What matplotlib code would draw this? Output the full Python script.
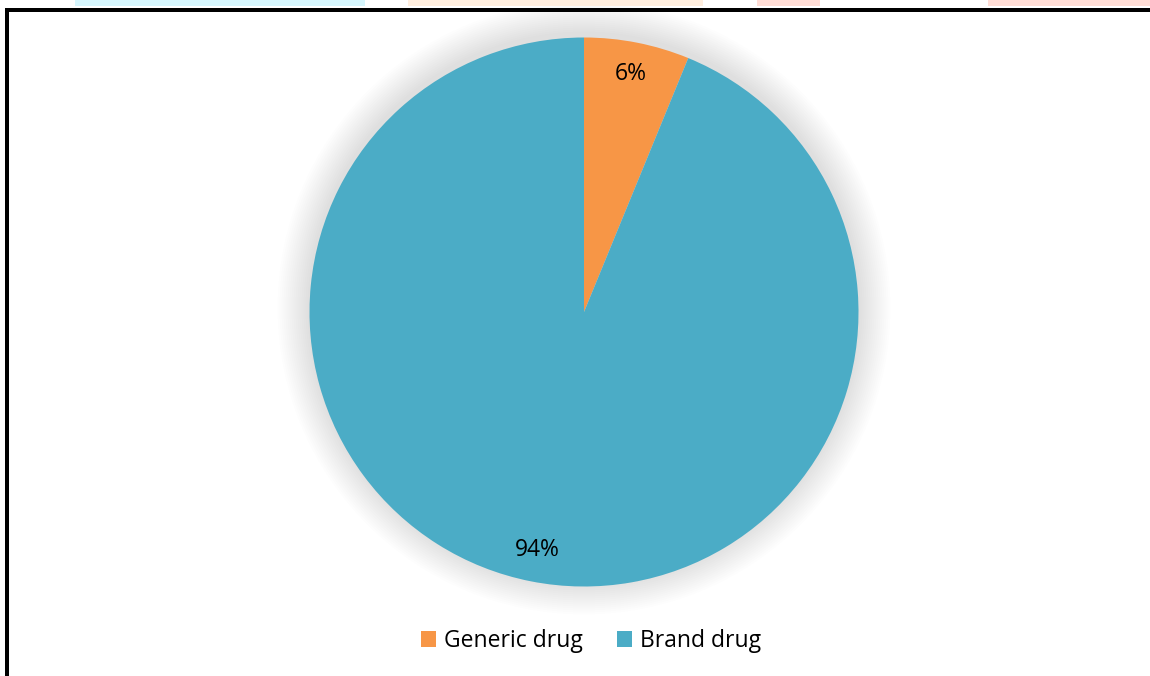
import matplotlib
matplotlib.use("Agg")
import matplotlib.pyplot as plt
from matplotlib.patches import Rectangle, Circle

categories = ["Generic drug", "Brand drug"]
shares = [6.2, 93.8]
colors = ["#F79646", "#4BACC6"]

W, H = 1150, 676
fig = plt.figure(figsize=(W / 100, H / 100), dpi=100)
fig.patch.set_facecolor("white")
plt.rcParams["font.family"] = ["Open Sans", "DejaVu Sans"]

ax = fig.add_axes([0, 0, 1, 1])
ax.set_xlim(0, W)
ax.set_ylim(0, H)
ax.set_aspect("equal")
ax.axis("off")

cx, cy, r = 584, H - 312, 274.5

# soft shadow around the pie
n = 16
for i in range(n):
    rr = r + 32 * (n - i) / n
    ax.add_patch(Circle((cx, cy + 4), rr, color="black", alpha=0.006, lw=0, zorder=0))

wedges, texts, autotexts = ax.pie(
    shares, colors=colors, startangle=90, counterclock=False,
    center=(cx, cy), radius=r, autopct="%.0f%%", pctdistance=0.885,
    textprops=dict(fontsize=16.5, color="black"),
    wedgeprops=dict(linewidth=0),
)
ax.set_xlim(0, W)
ax.set_ylim(0, H)

leg = ax.legend(wedges, categories, loc="center",
                bbox_to_anchor=(591 / W, (H - 641) / H),
                bbox_transform=fig.transFigure, ncol=2, frameon=False,
                fontsize=16.5, handlelength=0.65, handleheight=0.65,
                handletextpad=0.35, columnspacing=1.5)

# frame lines (page border, cropped)
fig.add_artist(Rectangle((5 / W, 0), 4 / W, (H - 8) / H, transform=fig.transFigure,
                         color="black", lw=0))
fig.add_artist(Rectangle((5 / W, (H - 12) / H), (W - 5) / W, 4 / H, transform=fig.transFigure,
                         color="black", lw=0))
# page decorations above the frame
for x0, x1, c in [(75, 365, "#D6F6FD"), (408, 703, "#FFEEDF"), (757, 820, "#FFDDD6"), (988, 1150, "#FFDDD6")]:
    fig.add_artist(Rectangle((x0 / W, (H - 6) / H), (x1 - x0) / W, 6 / H,
                             transform=fig.transFigure, color=c, lw=0))

fig.savefig("out.png", dpi=100)
